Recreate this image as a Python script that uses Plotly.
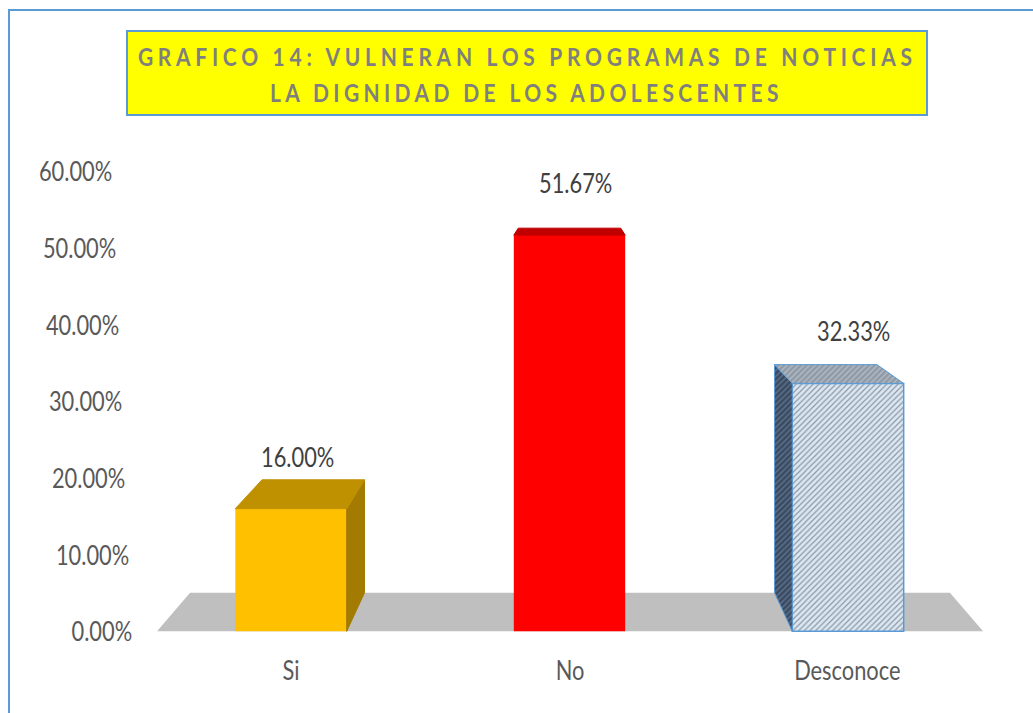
import json
import plotly.graph_objects as go

# ---------------- data ----------------
CATEGORIES = ["Si", "No", "Desconoce"]
VALUES = [16.00, 51.67, 32.33]
TICK_VALUES = [0, 10, 20, 30, 40, 50, 60]
TICK_LABELS = ["0.00%", "10.00%", "20.00%", "30.00%", "40.00%", "50.00%", "60.00%"]
TITLE_LINES = ["GRAFICO 14: VULNERAN LOS PROGRAMAS DE NOTICIAS",
               "LA DIGNIDAD DE LOS ADOLESCENTES"]

# ---------------- style ----------------
FRONT = ["#FFC000", "#FF0000", "#DAE8F6"]
FRONT_FG = ["#FFC000", "#FF0000", "#6FA8DC"]
FRONT_PATTERN = ["", "", "/"]
FRONT_LINE = ["#FFC000", "#FF0000", "#5B9BD5"]
FRONT_LINE_W = [0, 0, 1.5]
TOP = ["#BF9000", "#C00000", "#8E99A6"]
TOP_FG = [None, None, "#D0D6DE"]
SIDE = ["#A37B00", "#A00000", "#3E4A5B"]
SIDE_FG = [None, None, "#6F9FD8"]
EDGE = ["#BF9000", "#C00000", "#5B9BD5"]

W, H = 1033, 713
ML, MR, MT, MB = 138, 18, 126, 5
X_RANGE = [-0.5494, 2.5997]
Y_RANGE = [-10, 65.9]
BAR_W = 0.4
VP_X, VP_Y, DEPTH = 1.0, 63.0, 0.92
FLOOR_X = [-0.481, 2.485]
FONT = "Lato, Open Sans, sans-serif"
BORDER = "#5B9BD5"
TITLE_WIDTHS = [779, 513]
SQUEEZE = 0.84

PW = W - ML - MR
PH = H - MT - MB


def px_x(px):
    return (px - ML) / PW


def px_y(py):
    return (H - MB - py) / PH


def back(x, v):
    return VP_X + DEPTH * (x - VP_X), VP_Y + DEPTH * (v - VP_Y)


fig = go.Figure()

# front faces
xs_idx = list(range(len(CATEGORIES)))
fig.add_trace(go.Bar(
    x=xs_idx, y=VALUES, width=BAR_W,
    marker=dict(color=FRONT,
                line=dict(color=FRONT_LINE, width=FRONT_LINE_W),
                pattern=dict(shape=FRONT_PATTERN, fgcolor=FRONT_FG, bgcolor=FRONT,
                             size=4, solidity=0.3)),
    hoverinfo="skip",
))

# top and side faces
for i, v in enumerate(VALUES):
    xl, xr = i - BAR_W / 2, i + BAR_W / 2
    bxl, bv = back(xl, v)
    bxr, _ = back(xr, v)
    _, bv0 = back(xl, 0)
    side = None
    if xr < VP_X:
        side = ([xr, bxr, bxr, xr, xr], [v, bv, bv0, 0, v])
    elif xl > VP_X:
        side = ([xl, bxl, bxl, xl, xl], [v, bv, bv0, 0, v])
    if side is not None:
        kw = {}
        if SIDE_FG[i]:
            kw["fillpattern"] = dict(shape="/", fgcolor=SIDE_FG[i], bgcolor=SIDE[i],
                                     size=4, solidity=0.35)
        fig.add_trace(go.Scatter(x=side[0], y=side[1], mode="lines", fill="toself",
                                 fillcolor=SIDE[i],
                                 line=dict(color=EDGE[i] if SIDE_FG[i] else SIDE[i], width=1),
                                 hoverinfo="skip", **kw))
    kw = {}
    if TOP_FG[i]:
        kw["fillpattern"] = dict(shape="/", fgcolor=TOP_FG[i], bgcolor=TOP[i],
                                 size=4, solidity=0.4)
    fig.add_trace(go.Scatter(x=[xl, xr, bxr, bxl, xl], y=[v, v, bv, bv, v],
                             mode="lines", fill="toself", fillcolor=TOP[i],
                             line=dict(color=EDGE[i], width=1),
                             hoverinfo="skip", **kw))

# floor
fbx0, fbv = back(FLOOR_X[0], 0)
fbx1, _ = back(FLOOR_X[1], 0)
shapes = [
    dict(type="path", xref="x", yref="y", layer="below",
         path=f"M {FLOOR_X[0]},0 L {FLOOR_X[1]},0 L {fbx1},{fbv} L {fbx0},{fbv} Z",
         fillcolor="#BFBFBF", line=dict(width=0)),
    dict(type="rect", xref="paper", yref="paper", layer="below",
         x0=px_x(9), x1=px_x(1060), y0=px_y(740), y1=px_y(10),
         line=dict(color=BORDER, width=2), fillcolor="rgba(0,0,0,0)"),
    dict(type="rect", xref="paper", yref="paper", layer="above",
         x0=px_x(127), x1=px_x(927), y0=px_y(115), y1=px_y(31),
         line=dict(color=BORDER, width=2), fillcolor="#FFFF00"),
]

annotations = []
for i, v in enumerate(VALUES):
    annotations.append(dict(x=i, y=v, xref="x", yref="y", text=f"{v:.2f}%",
                            showarrow=False, yshift=52, xshift=6,
                            font=dict(family=FONT, size=26, color="#404040")))
for i, c in enumerate(CATEGORIES):
    annotations.append(dict(x=i, y=-5, xref="x", yref="y", text=c, showarrow=False,
                            font=dict(family=FONT, size=26, color="#595959")))
for tv, tl in zip(TICK_VALUES, TICK_LABELS):
    annotations.append(dict(x=px_x(134 - 0.33 * tv), y=tv, xref="paper", yref="y",
                            text=tl, showarrow=False, xanchor="right", align="right",
                            font=dict(family=FONT, size=26, color="#595959")))
for line, py in zip(TITLE_LINES, [56, 92]):
    annotations.append(dict(x=px_x(527), y=px_y(py), xref="paper", yref="paper",
                            text=line, showarrow=False, yanchor="middle",
                            font=dict(family=FONT, size=25, color="#7F7F7F", weight="bold")))

fig.update_layout(
    width=W, height=H,
    margin=dict(l=ML, r=MR, t=MT, b=MB),
    paper_bgcolor="white", plot_bgcolor="white",
    showlegend=False, hovermode=False,
    xaxis=dict(range=X_RANGE, showgrid=False, zeroline=False, showline=False,
               showticklabels=False, fixedrange=True),
    yaxis=dict(range=Y_RANGE, showgrid=False, zeroline=False, showline=False,
               showticklabels=False, tickvals=TICK_VALUES, fixedrange=True),
    shapes=shapes, annotations=annotations,
)

post = """
document.body.style.margin = '0';
var titles = %s, targets = %s, squeeze = %s;
document.querySelectorAll('.annotation-text').forEach(function(t) {
  var k = titles.indexOf(t.textContent);
  var len = t.getComputedTextLength();
  if (k >= 0) {
    var n = t.textContent.length;
    var ls = (targets[k] / squeeze - len) / n;
    t.style.letterSpacing = ls + 'px';
    var bb = t.getBBox();
    var cx = bb.x + (bb.width - ls) / 2;
    var prev = t.getAttribute('transform') || '';
    t.setAttribute('transform', prev + ' translate(' + cx + ',0) scale(' + squeeze + ',1) translate(' + (-cx) + ',0)');
  } else {
    t.setAttribute('textLength', len * squeeze);
    t.setAttribute('lengthAdjust', 'spacingAndGlyphs');
  }
});
""" % (json.dumps(TITLE_LINES), json.dumps(TITLE_WIDTHS), SQUEEZE)

fig.write_html("out.html", config={"displayModeBar": False}, post_script=post)
